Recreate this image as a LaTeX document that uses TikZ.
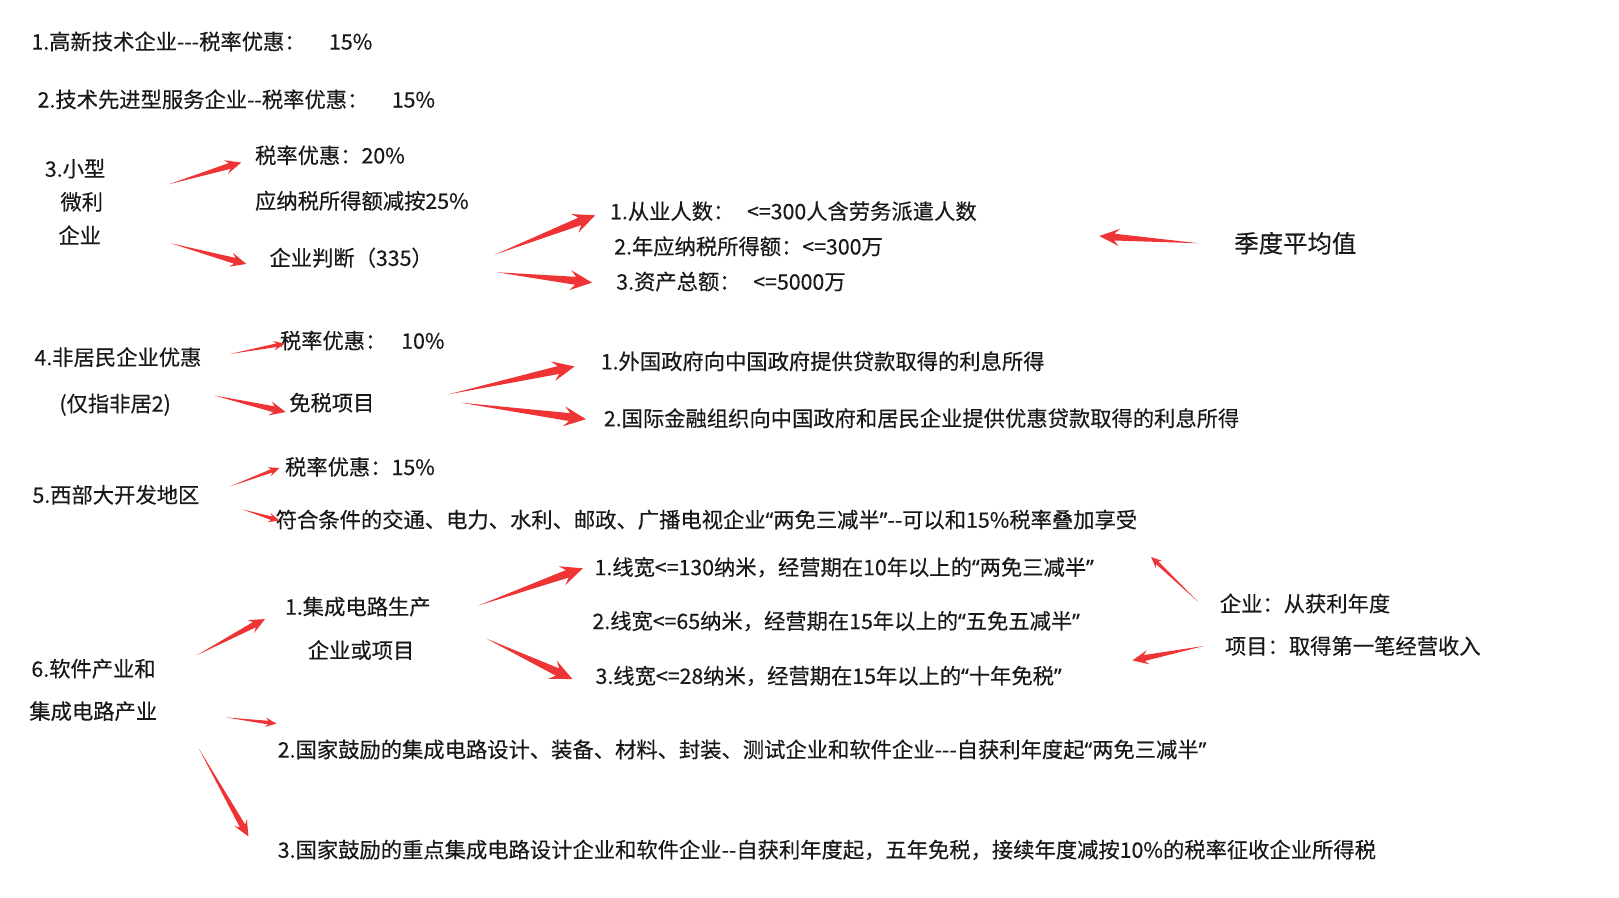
\documentclass[tikz,border=0pt]{standalone}
\usepackage{fontspec}
\setmainfont{Noto Sans CJK SC}[Ligatures=TeXOff, FakeBold=0.3]
\newfontfamily\latf{Noto Sans}[Ligatures=TeXOff, FakeBold=0.3]
\usetikzlibrary{calc}
\definecolor{arrowred}{RGB}{238,52,52}
\definecolor{txt}{RGB}{25,25,25}
\newcommand\myoq{{\latf “}}
\newcommand\mycq{{\latf ”}}
\tikzset{
  lbl/.style={anchor=west, inner sep=0pt, text=txt, font=\fontsize{10.65}{12}\selectfont},
  tarrow/.style n args={3}{draw=none, fill=arrowred, to path={
    -- ($(\tikztotarget)!0.75*#1!(\tikztostart)!#2!90:(\tikztotarget)$)
    -- ($(\tikztotarget)!#1!(\tikztostart)!#3!90:(\tikztotarget)$)
    -- (\tikztotarget)
    -- ($(\tikztotarget)!#1!(\tikztostart)!#3!-90:(\tikztotarget)$)
    -- ($(\tikztotarget)!0.75*#1!(\tikztostart)!#2!-90:(\tikztotarget)$)
    -- cycle}},
  bigarrow/.style={tarrow={11pt}{2pt}{5pt}},
  midarrow/.style={tarrow={8pt}{1.5pt}{3.6pt}},
  smallarrow/.style={tarrow={5.5pt}{0.9pt}{2.4pt}},
}
\begin{document}
\begin{tikzpicture}[x={(0.5176pt,0)}, y={(0,-0.5176pt)}]
\useasboundingbox[fill=white] (0,0) rectangle (1564,866.6);

% texts
\node[lbl] (t1) at (30,40) {1.高新技术企业---税率优惠：\hspace{1.1em}15\%};
\node[lbl] (t2) at (36,96) {2.技术先进型服务企业--税率优惠：\hspace{1.1em}15\%};
\node[lbl] (t3a) at (43,163) {3.小型};
\node[lbl] (t3b) at (58,195) {微利};
\node[lbl] (t3c) at (56,227) {企业};
\node[lbl] (t3r) at (246,150) {税率优惠：20\%};
\node[lbl] (t3n) at (246,194) {应纳税所得额减按25\%};
\node[lbl] (t3j) at (260,249) {企业判断（335）};
\node[lbl] (p1) at (589,204) {1.从业人数：\hspace{0.6em}<=300人含劳务派遣人数};
\node[lbl] (p2) at (593,238) {2.年应纳税所得额：<=300万};
\node[lbl] (p3) at (595,272) {3.资产总额：\hspace{0.6em}<=5000万};
\node[lbl, font=\fontsize{12.2}{14}\selectfont] (avg) at (1192,235) {季度平均值};
\node[lbl] (t4) at (33,345) {4.非居民企业优惠};
\node[lbl] (t4b) at (57,391) {(仅指非居2)};
\node[lbl] (t4r) at (270,329) {税率优惠：\hspace{0.7em}10\%};
\node[lbl] (t4m) at (279,389) {免税项目};
\node[lbl] (i1) at (580,349) {1.外国政府向中国政府提供贷款取得的利息所得};
\node[lbl] (i2) at (583,404) {2.国际金融组织向中国政府和居民企业提供优惠贷款取得的利息所得};
\node[lbl] (t5) at (31,478) {5.西部大开发地区};
\node[lbl] (t5r) at (275,451) {税率优惠：15\%};
\node[lbl] (t5t) at (266,502) {符合条件的交通、电力、水利、邮政、广播电视企业\myoq 两免三减半\mycq--可以和15\%税率叠加享受};
\node[lbl] (c1) at (275,586) {1.集成电路生产};
\node[lbl] (c2) at (297,628) {企业或项目};
\node[lbl] (l1) at (574,548) {1.线宽<=130纳米，经营期在10年以上的\myoq 两免三减半\mycq};
\node[lbl] (l2) at (572,600) {2.线宽<=65纳米，经营期在15年以上的\myoq 五免五减半\mycq};
\node[lbl] (l3) at (575,653) {3.线宽<=28纳米，经营期在15年以上的\myoq 十年免税\mycq};
\node[lbl] (q1) at (1178,583) {企业：从获利年度};
\node[lbl] (q2) at (1183,624) {项目：取得第一笔经营收入};
\node[lbl] (t6a) at (30,646) {6.软件产业和};
\node[lbl] (t6b) at (28,687) {集成电路产业};
\node[lbl] (s2) at (268,724) {2.国家鼓励的集成电路设计、装备、材料、封装、测试企业和软件企业---自获利年度起\myoq 两免三减半\mycq};
\node[lbl] (s3) at (268,821) {3.国家鼓励的重点集成电路设计企业和软件企业--自获利年度起，五年免税，接续年度减按10\%的税率征收企业所得税};

% arrow end points
\coordinate (a1s) at (163,178);  \coordinate (a1e) at (233,157);
\coordinate (a2s) at (165,235);  \coordinate (a2e) at (238,255);
\coordinate (a3s) at (478,246);  \coordinate (a3e) at (575,208);
\coordinate (a4s) at (480,263);  \coordinate (a4e) at (572,273);
\coordinate (a5s) at (1158,235); \coordinate (a5e) at (1062,228);
\coordinate (a6s) at (222,342);  \coordinate (a6e) at (275,332);
\coordinate (a7s) at (207,382);  \coordinate (a7e) at (276,398);
\coordinate (a8s) at (433,381);  \coordinate (a8e) at (555,354);
\coordinate (a9s) at (445,389);  \coordinate (a9e) at (566,405);
\coordinate (a10s) at (222,470); \coordinate (a10e) at (270,452);
\coordinate (a11s) at (234,492); \coordinate (a11e) at (270,503);
\coordinate (a12s) at (190,633); \coordinate (a12e) at (256,598);
\coordinate (a13s) at (462,585); \coordinate (a13e) at (563,549);
\coordinate (a14s) at (470,617); \coordinate (a14e) at (553,656);
\coordinate (a15s) at (1157,581); \coordinate (a15e) at (1112,538);
\coordinate (a16s) at (1163,624); \coordinate (a16e) at (1094,638);
\coordinate (a17s) at (218,693); \coordinate (a17e) at (267,699);
\coordinate (a18s) at (192,723); \coordinate (a18e) at (240,808);

% arrows
\path[midarrow] (a1s) to (a1e);
\path[midarrow] (a2s) to (a2e);
\path[bigarrow] (a3s) to (a3e);
\path[bigarrow] (a4s) to (a4e);
\path[tarrow={10pt}{1.7pt}{4.3pt}] (a5s) to (a5e);
\path[smallarrow] (a6s) to (a6e);
\path[midarrow] (a7s) to (a7e);
\path[bigarrow] (a8s) to (a8e);
\path[bigarrow] (a9s) to (a9e);
\path[smallarrow] (a10s) to (a10e);
\path[smallarrow] (a11s) to (a11e);
\path[midarrow] (a12s) to (a12e);
\path[bigarrow] (a13s) to (a13e);
\path[bigarrow] (a14s) to (a14e);
\path[smallarrow] (a15s) to (a15e);
\path[midarrow] (a16s) to (a16e);
\path[smallarrow] (a17s) to (a17e);
\path[midarrow] (a18s) to (a18e);
\end{tikzpicture}
\end{document}
